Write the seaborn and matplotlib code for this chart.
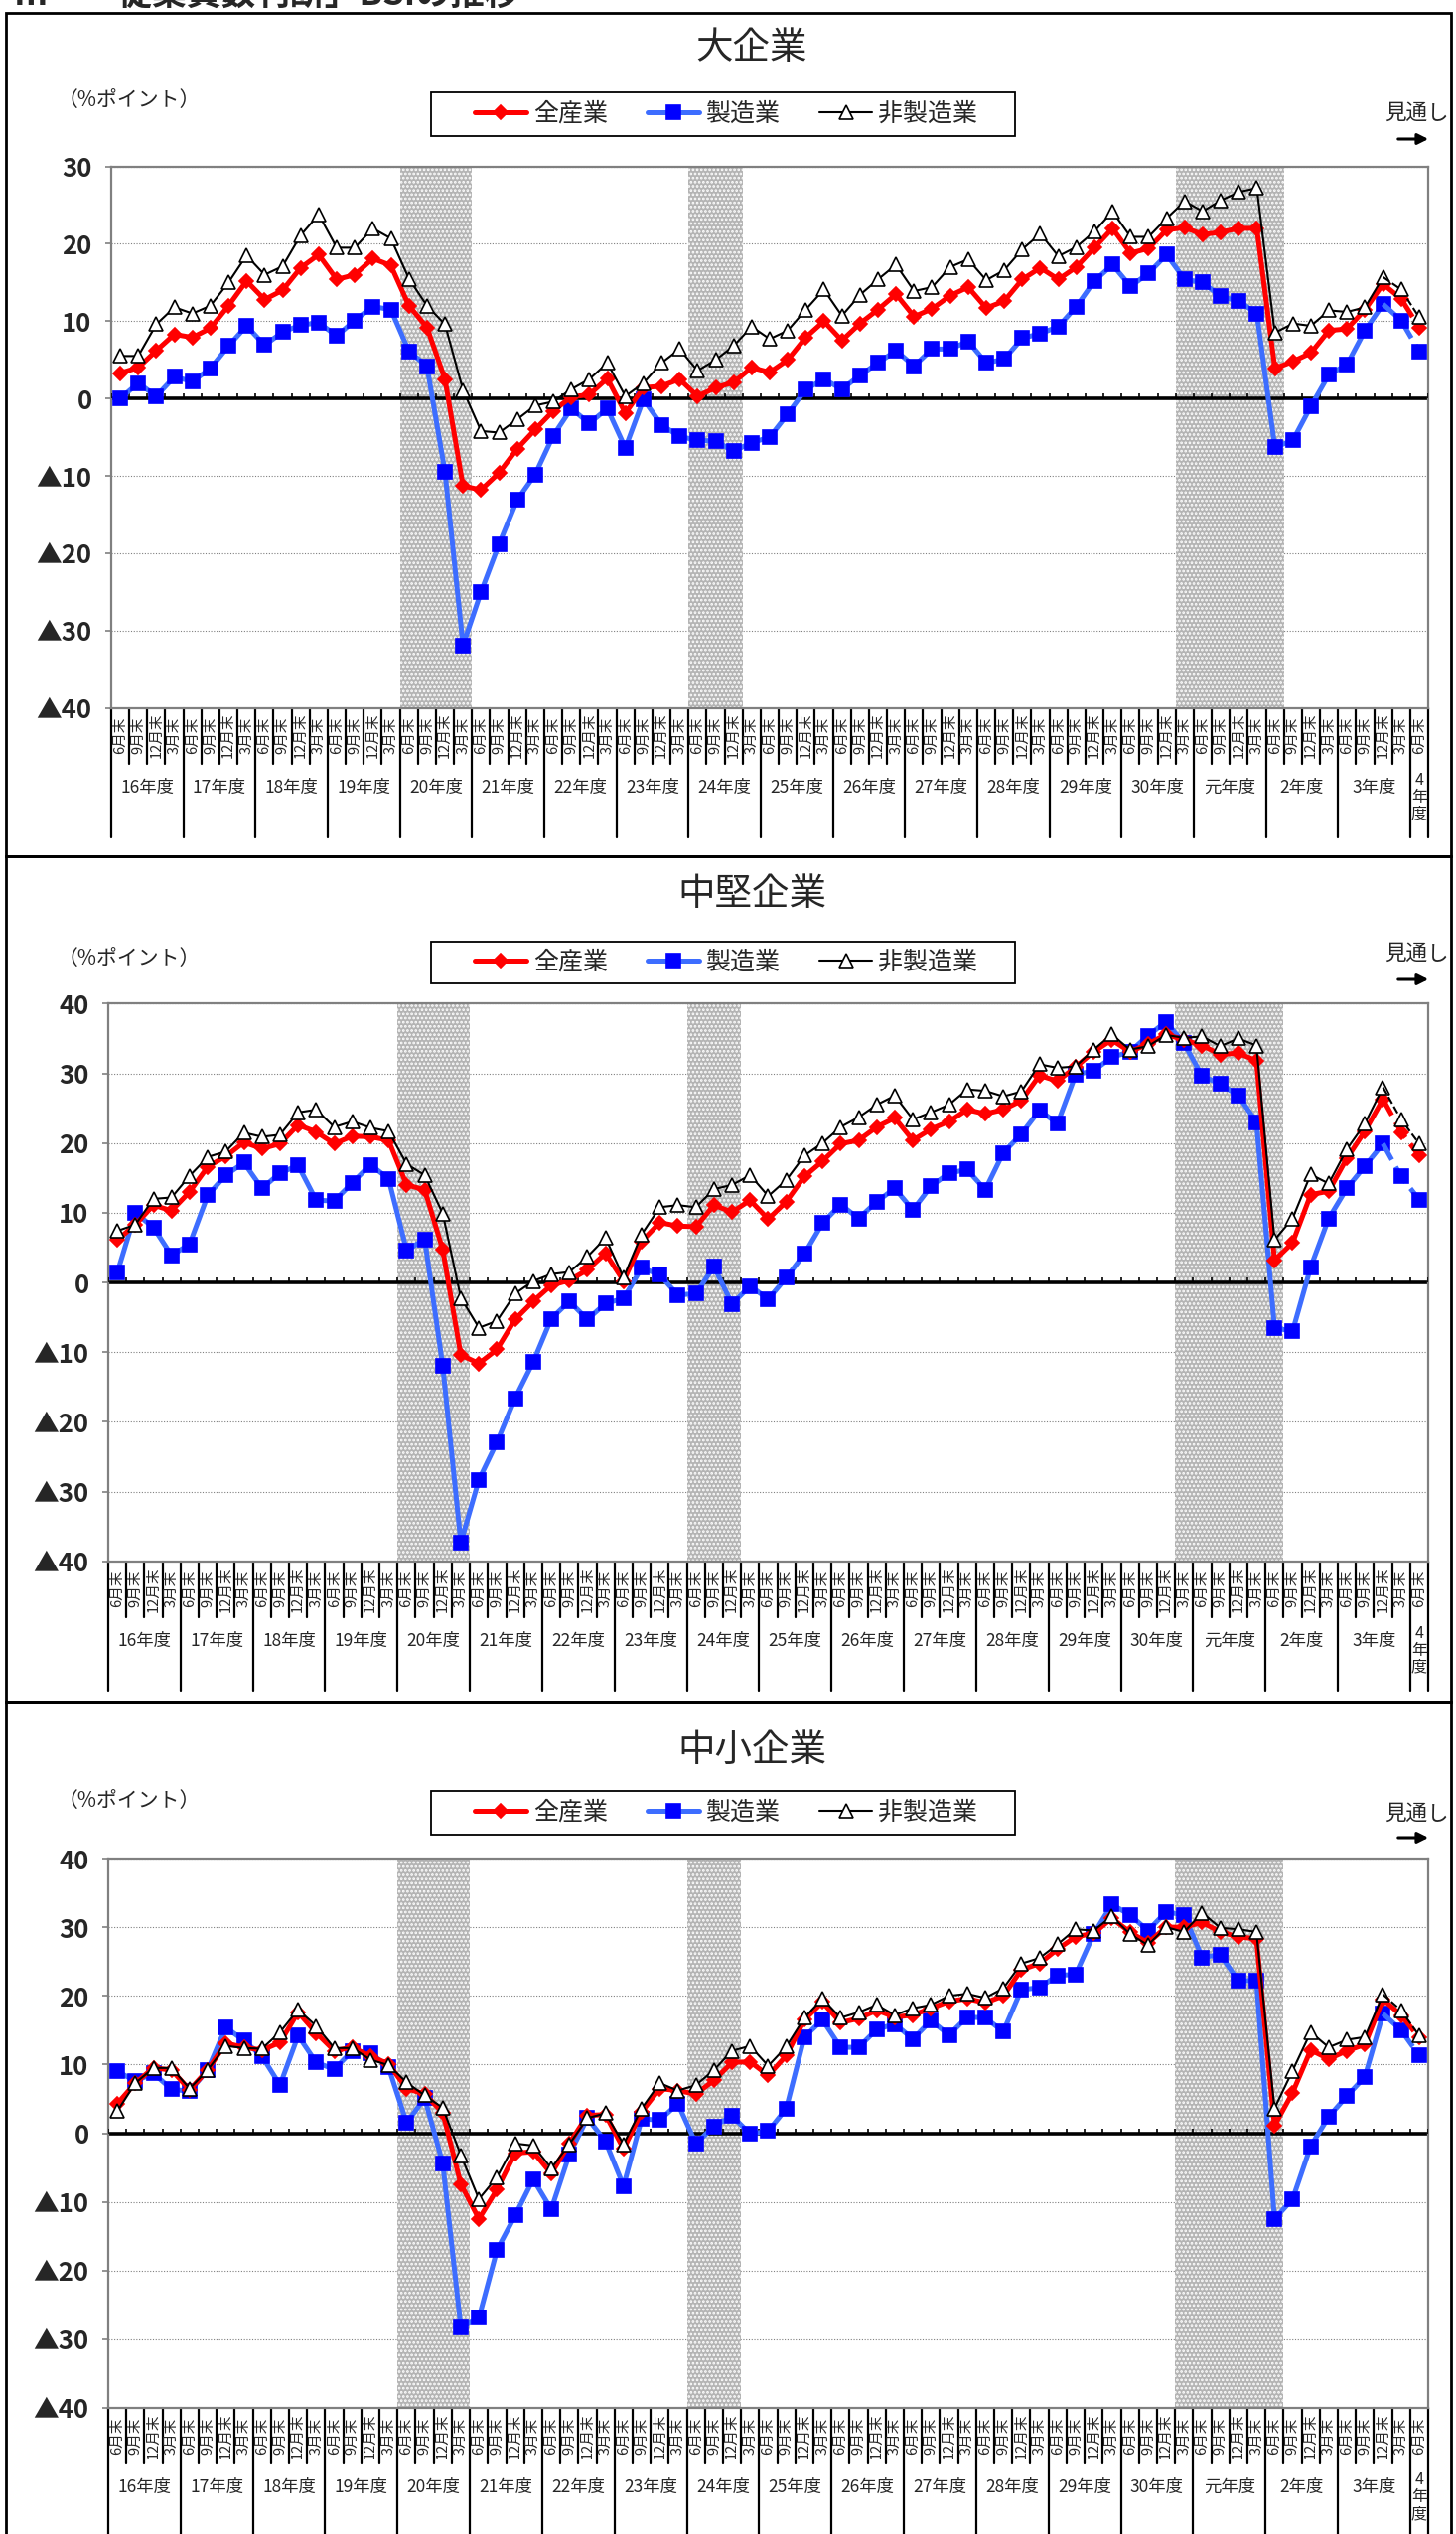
import matplotlib
matplotlib.use("Agg")
import matplotlib.pyplot as plt
import matplotlib.transforms as mtransforms
from matplotlib.lines import Line2D
from matplotlib.patches import Rectangle, FancyArrowPatch
import numpy as np
import pandas as pd
import seaborn as sns

# ---- categories -------------------------------------------------------
years = ['16年度', '17年度', '18年度', '19年度', '20年度', '21年度', '22年度',
         '23年度', '24年度', '25年度', '26年度', '27年度', '28年度', '29年度',
         '30年度', '元年度', '2年度', '3年度', '4年度']
months = ['6月末', '9月末', '12月末', '3月末']
periods = [(y, m) for y in years[:-1] for m in months] + [(years[-1], months[0])]

# shaded periods (first, last quarter)
shade_spans = [(('20年度', '6月末'), ('20年度', '3月末')),
               (('24年度', '6月末'), ('24年度', '12月末')),
               (('30年度', '3月末'), ('2年度', '6月末'))]
# the last two points are the outlook (dashed)
forecast_from = ('3年度', '12月末')

series_names = ['全産業', '製造業', '非製造業']

# ---- values (%ポイント) -------------------------------------------------
all_large = [3.3, 4.0, 6.2, 8.3, 7.9, 9.1, 12.0, 15.2, 12.8, 14.0,
             16.9, 18.6, 15.4, 16.0, 18.1, 17.2, 12.0, 9.2, 2.5, -11.3,
             -11.8, -9.6, -6.5, -4.0, -1.6, 0.2, 0.5, 2.6, -1.9, 1.4,
             1.6, 2.5, 0.3, 1.4, 2.1, 4.0, 3.4, 5.0, 7.9, 10.0,
             7.5, 9.7, 11.5, 13.5, 10.6, 11.6, 13.3, 14.4, 11.7, 12.6,
             15.4, 16.9, 15.4, 17.0, 19.5, 22.0, 18.8, 19.4, 21.8, 22.1,
             21.2, 21.5, 22.0, 22.0, 3.9, 4.8, 5.9, 8.8, 9.0, 11.5,
             14.8, 12.9, 9.2]
mfg_large = [0.0, 2.0, 0.3, 2.8, 2.2, 3.9, 6.8, 9.4, 6.9, 8.6,
             9.5, 9.8, 8.1, 10.1, 11.9, 11.5, 6.1, 4.2, -9.5, -31.9,
             -25.0, -18.8, -13.1, -9.8, -4.8, -1.3, -3.2, -1.3, -6.4, -0.1,
             -3.4, -4.9, -5.4, -5.5, -6.8, -5.7, -5.0, -2.0, 1.2, 2.5,
             1.2, 3.0, 4.6, 6.2, 4.2, 6.4, 6.4, 7.4, 4.6, 5.1,
             7.8, 8.4, 9.3, 11.9, 15.2, 17.3, 14.5, 16.2, 18.6, 15.4,
             15.0, 13.2, 12.6, 11.0, -6.3, -5.4, -1.0, 3.1, 4.4, 8.8,
             12.2, 10.1, 6.1]
nonmfg_large = [5.5, 5.5, 9.6, 11.8, 11.0, 12.0, 15.0, 18.5, 16.0, 17.1,
                21.1, 23.8, 19.5, 19.5, 22.0, 20.7, 15.5, 12.0, 9.6, 1.1,
                -4.2, -4.4, -2.7, -0.9, -0.4, 1.2, 2.5, 4.6, 0.3, 2.0,
                4.6, 6.4, 3.6, 5.0, 6.8, 9.3, 7.7, 8.8, 11.5, 14.1,
                10.7, 13.4, 15.4, 17.3, 13.9, 14.4, 17.0, 18.0, 15.3, 16.6,
                19.3, 21.3, 18.4, 19.6, 21.6, 24.2, 20.9, 20.9, 23.3, 25.5,
                24.2, 25.6, 26.7, 27.2, 8.5, 9.7, 9.4, 11.4, 11.2, 11.8,
                15.7, 14.1, 10.5]

all_mid = [6.1, 8.3, 11.1, 10.3, 13.0, 16.6, 18.1, 20.1, 19.2, 19.9,
           22.6, 21.6, 19.9, 21.0, 20.9, 20.4, 14.0, 13.3, 4.7, -10.4,
           -11.6, -9.6, -5.3, -2.7, -0.4, 0.3, 1.8, 4.2, 0.2, 5.9,
           8.6, 8.1, 8.0, 11.1, 10.1, 11.8, 9.1, 11.6, 15.2, 17.4,
           19.9, 20.4, 22.3, 23.6, 20.4, 22.0, 23.1, 24.8, 24.2, 24.8,
           26.1, 29.7, 28.9, 30.9, 33.1, 34.8, 33.1, 34.2, 35.6, 34.8,
           34.0, 32.7, 32.9, 31.8, 3.2, 5.7, 12.6, 13.1, 17.8, 21.7,
           26.3, 21.6, 18.2]
mfg_mid = [1.4, 10.0, 7.9, 3.9, 5.5, 12.5, 15.4, 17.2, 13.5, 15.7,
           16.8, 11.8, 11.7, 14.3, 16.9, 14.9, 4.6, 6.2, -12.0, -37.3,
           -28.3, -22.9, -16.6, -11.4, -5.2, -2.7, -5.3, -3.0, -2.3, 2.1,
           1.1, -1.8, -1.6, 2.3, -3.1, -0.5, -2.4, 0.7, 4.1, 8.5,
           11.2, 9.2, 11.6, 13.5, 10.4, 13.8, 15.7, 16.2, 13.3, 18.6,
           21.3, 24.7, 22.8, 29.8, 30.4, 32.3, 33.1, 35.4, 37.4, 34.3,
           29.6, 28.5, 26.8, 23.0, -6.5, -7.0, 2.2, 9.2, 13.5, 16.7,
           19.9, 15.2, 11.9]
nonmfg_mid = [7.4, 8.3, 12.0, 12.2, 15.3, 18.0, 18.8, 21.5, 20.9, 21.2,
              24.4, 24.8, 22.3, 23.1, 22.2, 21.7, 17.0, 15.4, 9.9, -2.2,
              -6.5, -5.5, -1.6, 0.2, 1.2, 1.5, 3.7, 6.4, 0.7, 6.9,
              10.8, 11.1, 10.8, 13.4, 14.0, 15.4, 12.4, 14.7, 18.2, 20.0,
              22.3, 23.7, 25.5, 26.8, 23.4, 24.4, 25.5, 27.7, 27.5, 26.7,
              27.4, 31.3, 30.8, 31.0, 33.4, 35.6, 33.4, 33.9, 35.5, 35.1,
              35.3, 33.9, 35.0, 34.0, 6.1, 9.2, 15.5, 14.2, 19.1, 22.8,
              28.0, 23.4, 19.9]

all_small = [4.3, 7.3, 9.5, 9.2, 6.3, 9.2, 13.1, 12.5, 12.1, 13.2,
             17.6, 14.6, 12.0, 12.5, 11.2, 10.1, 6.5, 5.7, 3.0, -7.4,
             -12.5, -8.2, -2.9, -2.7, -5.9, -1.5, 2.6, 2.7, -2.3, 3.1,
             6.5, 6.2, 5.7, 7.7, 10.3, 10.4, 8.4, 11.3, 16.5, 19.1,
             16.1, 16.7, 17.9, 16.9, 17.2, 18.2, 19.2, 19.6, 19.0, 20.0,
             23.8, 24.7, 26.8, 28.6, 29.1, 31.3, 29.3, 27.7, 30.0, 30.0,
             30.7, 29.3, 28.6, 28.3, 1.1, 5.9, 12.1, 10.8, 12.0, 12.9,
             19.5, 17.2, 13.9]
mfg_small = [9.0, 7.6, 8.7, 6.4, 6.1, 9.2, 15.4, 13.5, 11.2, 7.0,
             14.2, 10.3, 9.3, 12.0, 11.7, 9.6, 1.5, 5.1, -4.4, -28.3,
             -26.9, -17.0, -12.0, -6.7, -11.1, -3.1, 2.2, -1.2, -7.7, 2.1,
             1.9, 4.3, -1.5, 1.0, 2.5, -0.1, 0.3, 3.6, 14.0, 16.5,
             12.5, 12.5, 15.1, 15.9, 13.7, 16.4, 14.3, 16.9, 16.8, 14.8,
             20.9, 21.2, 23.0, 23.1, 29.0, 33.3, 31.8, 29.5, 32.2, 31.8,
             25.6, 26.0, 22.2, 22.2, -12.5, -9.6, -1.9, 2.4, 5.4, 8.2,
             17.4, 15.0, 11.3]
nonmfg_small = [3.2, 7.3, 9.5, 9.5, 6.5, 9.2, 12.7, 12.4, 12.3, 14.7,
                18.0, 15.6, 12.4, 12.4, 10.7, 9.9, 7.4, 5.5, 3.7, -3.2,
                -9.6, -6.4, -1.5, -1.8, -5.1, -1.6, 2.2, 2.9, -1.6, 3.6,
                7.3, 6.2, 7.0, 9.2, 12.0, 12.7, 9.8, 12.6, 16.8, 19.6,
                16.8, 17.6, 18.7, 17.2, 18.2, 18.7, 20.0, 20.3, 19.7, 21.1,
                24.7, 25.5, 27.5, 29.7, 29.5, 31.6, 29.0, 27.4, 30.0, 29.3,
                32.1, 29.9, 29.7, 29.3, 3.6, 9.1, 14.7, 12.5, 13.6, 14.0,
                20.2, 17.9, 14.2]

# ---- styling ----------------------------------------------------------
sns.set_theme(style="white")
plt.rcParams['font.family'] = ['Noto Sans CJK JP', 'DejaVu Sans']
plt.rcParams['hatch.linewidth'] = 1.3

styles = {
    '全産業': dict(color='#ff0000', marker='D', ms=7.3, lw=3.6, mfc='#ff0000', mec='#ff0000', z=4),
    '製造業': dict(color='#3d6dff', marker='s', ms=10, lw=3.6, mfc='#0000ff', mec='#0000ff', z=3),
    '非製造業': dict(color='black', marker='^', ms=9.5, lw=1.5, mfc='white', mec='black', z=5),
}

W, H = 1466, 2551
fig = plt.figure(figsize=(W / 100, H / 100), dpi=100)
fig.patch.set_facecolor('white')


def fx(px):
    return px / W


def fy(py):
    return 1 - py / H


panels = [
    dict(title='大企業', values=(all_large, mfg_large, nonmfg_large), ylim=(-40, 30),
         box=(112, 167.6, 1438, 712.7), frame=(6, 13, 1461, 862),
         title_y=49, unit_y=101, legend_y=(93, 137), mitoshi_y=114, arrow_y=140),
    dict(title='中堅企業', values=(all_mid, mfg_mid, nonmfg_mid), ylim=(-40, 40),
         box=(109, 1010.4, 1438, 1571.8), frame=(6, 862, 1461, 1713),
         title_y=900, unit_y=965, legend_y=(948, 990), mitoshi_y=960, arrow_y=986),
    dict(title='中小企業', values=(all_small, mfg_small, nonmfg_small), ylim=(-40, 40),
         box=(109, 1871, 1438, 2424), frame=(6, 1713, 1461, 2600),
         title_y=1762, unit_y=1813, legend_y=(1803, 1847), mitoshi_y=1826, arrow_y=1850),
]

x = np.arange(len(periods))
f0 = periods.index(forecast_from)
month_h, year_y, sep_h = 56, 80, 130

# heading of the page, cut off at the top edge as in the source
fig.text(fx(14), fy(6), 'Ⅲ　「従業員数判断」BSIの推移', fontsize=25, fontweight='bold',
         ha='left', va='baseline')

for p in panels:
    l, t, r, b = p['box']
    ax = fig.add_axes([fx(l), fy(b), fx(r - l), (b - t) / H])
    ax_h = b - t

    for name, vals in zip(series_names, p['values']):
        st = styles[name]
        df = pd.DataFrame({'x': x, 'y': vals})
        common = dict(color=st['color'], lw=st['lw'], marker=st['marker'], markersize=st['ms'],
                      markerfacecolor=st['mfc'], markeredgecolor=st['mec'], markeredgewidth=1.2,
                      zorder=st['z'], errorbar=None, legend=False, ax=ax)
        sns.lineplot(data=df.iloc[:f0 + 1], x='x', y='y', **common)
        sns.lineplot(data=df.iloc[f0:], x='x', y='y', ls='--', markevery=[1, 2], **common)

    for (a, bb) in shade_spans:
        ax.axvspan(periods.index(a) - 0.5, periods.index(bb) + 0.5, facecolor='#b4b4b4',
                   edgecolor='white', hatch='....', lw=0, zorder=1)

    ax.axhline(0, color='black', lw=2.6, zorder=2.5)
    ax.vlines(np.arange(len(periods) + 1) - 0.5, 0, 0.7, color='black', lw=1.2, zorder=2.6)

    ax.set_xlim(-0.5, len(periods) - 0.5)
    ax.set_ylim(*p['ylim'])
    ticks = list(range(p['ylim'][0], p['ylim'][1] + 1, 10))
    ax.set_yticks(ticks)
    ax.set_yticklabels([f'▲{-v}' if v < 0 else str(v) for v in ticks], fontweight='bold')
    ax.set_xticks([])
    ax.tick_params(axis='y', left=True, length=4, width=1.2, color='#808080',
                   labelsize=18.5, pad=10)
    ax.set_xlabel('')
    ax.set_ylabel('')
    ax.grid(axis='y', color='#808080', linestyle=(0, (1, 1.5)), linewidth=0.8)
    ax.set_axisbelow(True)
    for s in ax.spines.values():
        s.set_color('#808080')
        s.set_linewidth(1.6)

    # category axis drawn below the plot
    trans = mtransforms.blended_transform_factory(ax.transData, ax.transAxes)
    for k in range(len(periods) + 1):
        long_line = k % 4 == 0 or k == len(periods)
        depth = sep_h if long_line else month_h
        ax.plot([k - 0.5, k - 0.5], [0, -depth / ax_h], color='black', lw=1.6,
                transform=trans, clip_on=False)
    for i, (yname, m) in enumerate(periods):
        ax.text(i, -month_h / 2 / ax_h, m, rotation=90, ha='center', va='center',
                fontsize=10.5, transform=trans, clip_on=False)
    for j, yname in enumerate(years[:-1]):
        ax.text(4 * j + 1.5, -year_y / ax_h, yname, ha='center', va='center',
                fontsize=12.5, transform=trans, clip_on=False)
    ax.text(len(periods) - 1, -(month_h + 8) / ax_h, '\n'.join(years[-1]),
            ha='center', va='top', fontsize=11.5, linespacing=1.0, transform=trans, clip_on=False)

    # panel frame, title, unit, legend, outlook arrow
    fl, ft, fr, fb = p['frame']
    fig.add_artist(Rectangle((fx(fl), fy(fb)), fx(fr - fl), (fb - ft) / H,
                             transform=fig.transFigure, fill=False, ec='black', lw=2))
    fig.text(fx(757), fy(p['title_y']), p['title'], ha='center', va='center', fontsize=27)
    fig.text(fx(58), fy(p['unit_y']), '（%ポイント）', ha='left', va='center', fontsize=15)
    fig.text(fx(1426), fy(p['mitoshi_y']), '見通し', ha='center', va='center', fontsize=15.5)
    fig.add_artist(FancyArrowPatch(
        (fx(1405), fy(p['arrow_y'])), (fx(1441), fy(p['arrow_y'])), transform=fig.transFigure,
        arrowstyle='-|>', mutation_scale=16, color='black', lw=2.2))

    ly0, ly1 = p['legend_y']
    fig.add_artist(Rectangle((fx(434), fy(ly1)), fx(1022 - 434), (ly1 - ly0) / H,
                             transform=fig.transFigure, fill=False, ec='black', lw=1.3))
    handles = [Line2D([], [], color=styles[n]['color'], lw=styles[n]['lw'], marker=styles[n]['marker'],
                      ms=styles[n]['ms'], mfc=styles[n]['mfc'], mec=styles[n]['mec'], mew=1.2)
               for n in series_names]
    fig.legend(handles, series_names, loc='center', bbox_to_anchor=(fx(731), fy((ly0 + ly1) / 2)),
               ncol=3, frameon=False, fontsize=18, handlelength=2.1, handletextpad=0.25,
               columnspacing=1.6, borderpad=0)

fig.savefig('out.png', dpi=100)
